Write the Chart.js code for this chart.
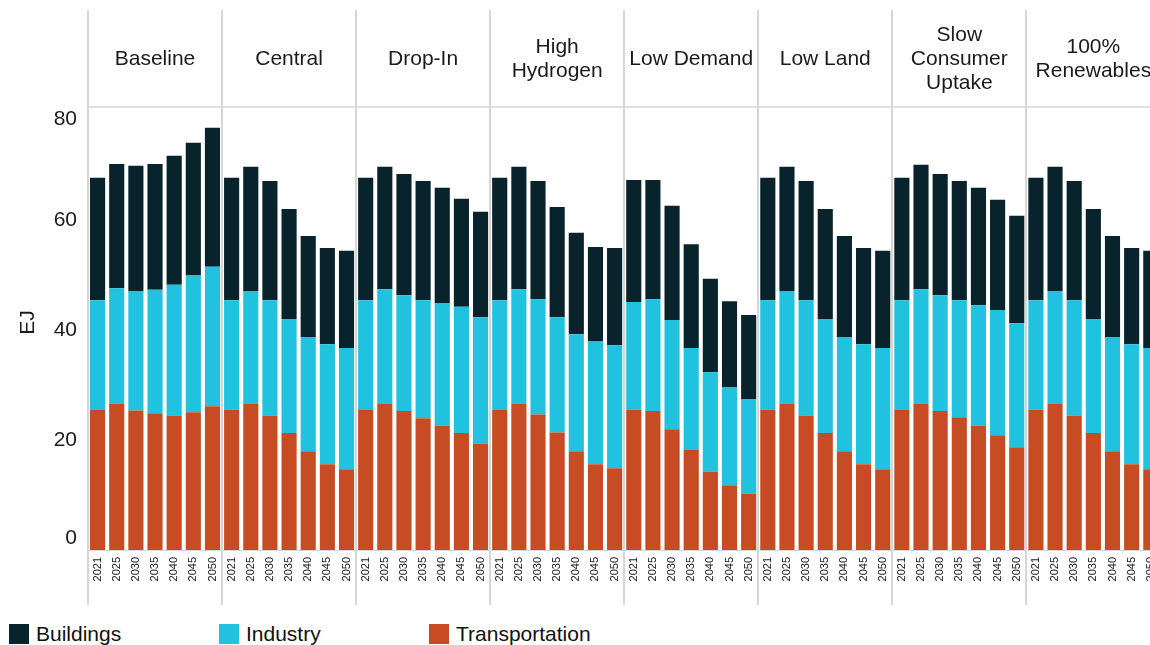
<!DOCTYPE html>
<html>
<head>
<meta charset="utf-8">
<script src="https://cdn.jsdelivr.net/npm/chart.js@4"></script>
<style>
  html, body { margin: 0; padding: 0; background: #fff; overflow: hidden; width: 1150px; height: 645px; }
  #wrap { position: absolute; left: 0; top: 0; width: 1167px; height: 610px; }
  #legend { position: absolute; left: 0; top: 621px; width: 1150px; height: 25px; font: 21px "Liberation Sans", Arial, sans-serif; color: #111; }
  .item { position: absolute; top: 3px; height: 20px; line-height: 20px; white-space: nowrap; }
  .sw { position: absolute; left: 0; top: 0; width: 20px; height: 20px; }
  .lbl { position: absolute; left: 27px; top: 0; }
</style>
</head>
<body>
<div id="wrap"><canvas id="energyChart"></canvas></div>
<div id="legend"></div>
<script>
const scenarios = [['Baseline'], ['Central'], ['Drop-In'], ['High', 'Hydrogen'], ['Low Demand'], ['Low Land'], ['Slow', 'Consumer', 'Uptake'], ['100%', 'Renewables']];
const years = ['2021', '2025', '2030', '2035', '2040', '2045', '2050'];
const yTicks = [0, 20, 40, 60, 80];

// EJ per scenario, one row per scenario, one value per year
const transportation = [
    [25.5, 26.7, 25.4, 24.9, 24.5, 25.1, 26.2],
    [25.6, 26.6, 24.5, 21.3, 18.0, 15.6, 14.7],
    [25.5, 26.6, 25.3, 24.0, 22.7, 21.3, 19.4],
    [25.5, 26.6, 24.7, 21.4, 18.0, 15.6, 14.9],
    [25.6, 25.3, 22.0, 18.2, 14.3, 11.8, 10.3],
    [25.6, 26.6, 24.5, 21.3, 18.0, 15.6, 14.7],
    [25.5, 26.6, 25.3, 24.2, 22.7, 20.9, 18.7],
    [25.6, 26.6, 24.5, 21.3, 18.0, 15.6, 14.7]
];
const industry = [
    [20.0, 21.0, 21.8, 22.5, 23.8, 25.0, 25.4],
    [19.9, 20.6, 21.0, 20.8, 20.8, 21.9, 22.1],
    [20.0, 20.9, 21.1, 21.5, 22.3, 23.0, 23.0],
    [20.0, 20.9, 21.0, 21.0, 21.3, 22.4, 22.4],
    [19.6, 20.4, 19.9, 18.6, 18.1, 17.9, 17.2],
    [19.9, 20.6, 21.0, 20.8, 20.8, 21.9, 22.1],
    [20.0, 20.9, 21.1, 21.3, 21.9, 22.8, 22.6],
    [19.9, 20.6, 21.0, 20.8, 20.8, 21.9, 22.1]
];
const buildings = [
    [22.3, 22.6, 22.8, 22.9, 23.5, 24.1, 25.3],
    [22.3, 22.6, 21.7, 20.0, 18.4, 17.5, 17.7],
    [22.3, 22.3, 22.1, 21.7, 21.0, 19.7, 19.2],
    [22.3, 22.3, 21.5, 20.1, 18.5, 17.2, 17.7],
    [22.2, 21.7, 20.8, 18.9, 17.0, 15.6, 15.3],
    [22.3, 22.6, 21.7, 20.0, 18.4, 17.5, 17.7],
    [22.3, 22.7, 22.1, 21.7, 21.4, 20.1, 19.6],
    [22.3, 22.6, 21.7, 20.0, 18.4, 17.5, 17.7]
];

const FONT = '"Liberation Sans", Arial, sans-serif';
const TEXT = '#1a1a1a';
const LINE = '#d6d6d6';

const labels = [];
scenarios.forEach(() => years.forEach(y => labels.push(y)));

// Tableau-like panel headers, separators and y labels
const panels = {
    id: 'panels',
    afterDraw(chart) {
        const { ctx, chartArea } = chart;
        const x = chart.scales.x, y = chart.scales.y;
        const n = years.length;
        ctx.save();

        ctx.strokeStyle = LINE;
        ctx.lineWidth = 1.5;
        ctx.beginPath();
        ctx.moveTo(chartArea.left, chartArea.top);
        ctx.lineTo(chartArea.right, chartArea.top);
        ctx.stroke();

        ctx.lineWidth = 2;
        for (let i = 0; i <= scenarios.length; i++) {
            const px = Math.round(x.getPixelForValue(i * n - 0.5));
            ctx.beginPath();
            ctx.moveTo(px, 10);
            ctx.lineTo(px, 605);
            ctx.stroke();
        }

        ctx.fillStyle = TEXT;
        ctx.font = '21px ' + FONT;
        ctx.textAlign = 'center';
        ctx.textBaseline = 'middle';
        const lh = 24;
        scenarios.forEach((name, i) => {
            const cx = (x.getPixelForValue(i * n - 0.5) + x.getPixelForValue((i + 1) * n - 0.5)) / 2;
            const y0 = 59 - (name.length - 1) * lh / 2;
            name.forEach((line, k) => ctx.fillText(line, cx, y0 + k * lh));
        });

        ctx.textAlign = 'right';
        yTicks.forEach(v => {
            let py = y.getPixelForValue(v);
            py = Math.min(Math.max(py, chartArea.top + 12), chartArea.bottom - 12);
            ctx.fillText(String(v), 77, py);
        });

        ctx.translate(28, (chartArea.top + chartArea.bottom) / 2 - 6);
        ctx.rotate(-Math.PI / 2);
        ctx.textAlign = 'center';
        ctx.fillText('EJ', 0, 0);
        ctx.restore();
    }
};

const ctx = document.getElementById('energyChart').getContext('2d');
const energyChart = new Chart(ctx, {
    type: 'bar',
    data: {
        labels: labels,
        datasets: [{
            label: 'Transportation',
            data: transportation.flat(),
            backgroundColor: '#c84c23'
        }, {
            label: 'Industry',
            data: industry.flat(),
            backgroundColor: '#21c2df'
        }, {
            label: 'Buildings',
            data: buildings.flat(),
            backgroundColor: '#08232b'
        }]
    },
    options: {
        responsive: true,
        maintainAspectRatio: false,
        animation: false,
        categoryPercentage: 1,
        barPercentage: 0.79,
        layout: { padding: { left: 88, top: 107, right: 0, bottom: 0 } },
        plugins: {
            legend: { display: false },
            tooltip: { enabled: false }
        },
        scales: {
            x: {
                stacked: true,
                grid: { offset: true, drawOnChartArea: false, color: '#ececec', tickLength: 4 },
                border: { color: LINE },
                ticks: {
                    autoSkip: false,
                    minRotation: 90,
                    maxRotation: 90,
                    padding: 3,
                    color: TEXT,
                    font: { family: FONT, size: 11 }
                },
                afterFit(scale) { scale.height = 60; }
            },
            y: {
                stacked: true,
                display: false,
                min: 0,
                max: 80.7
            }
        }
    },
    plugins: [panels]
});

// legend, same order as the reference
const legend = document.getElementById('legend');
[['Buildings', '#08232b', 9], ['Industry', '#21c2df', 219], ['Transportation', '#c84c23', 429]].forEach(([name, color, left]) => {
    const item = document.createElement('div');
    item.className = 'item';
    item.style.left = left + 'px';
    item.innerHTML = '<span class="sw" style="background:' + color + '"></span><span class="lbl">' + name + '</span>';
    legend.appendChild(item);
});
</script>
</body>
</html>
